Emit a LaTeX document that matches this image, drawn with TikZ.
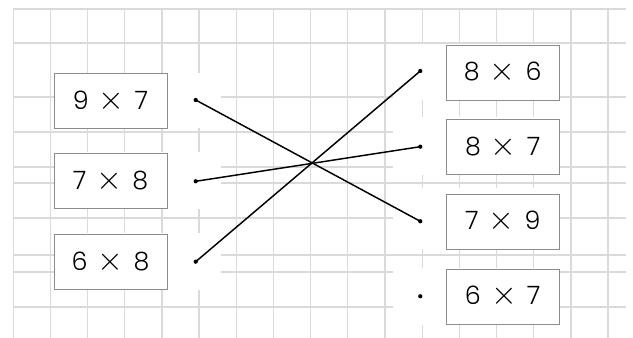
\documentclass[tikz,border=0pt]{standalone}
\usepackage{fontspec}
\setmainfont{Poppins Light}
\usetikzlibrary{calc}

\definecolor{gridgray}{RGB}{218,218,218}
\definecolor{boxgray}{RGB}{140,140,140}
\newcommand{\mult}[2]{#1\hspace{0.4em}{\fontsize{25}{25}\selectfont$\times$}\hspace{0.4em}#2}

\begin{document}
\begin{tikzpicture}[x=0.75pt, y=-0.75pt,
    card/.style={draw=boxgray, line width=0.7pt, fill=white, minimum width=84.75pt,
        minimum height=41.25pt, font=\fontsize{19}{22}\selectfont},
    pin/.style={circle, fill=black, inner sep=0pt, minimum size=3.2pt},
    link/.style={line width=1.1pt}]
    \useasboundingbox (0,0) rectangle (633,338);

    % grid paper
    \foreach \i in {0,...,16}
        \draw[gridgray, line width=1pt] ({13.3+37.17*\i}, 9) -- ({13.3+37.17*\i}, 338);
    \foreach \y in {9,43,97,132,167,183,218,255,272,307}
        \draw[gridgray, line width=1pt] (13.3, \y) -- (626, \y);

    % left column
    \begin{scope}[]
        \fill[white] (54, 73.5) rectangle (220.7, 128.5);
        \fill[white] (54, 152.5) rectangle (220.7, 209.5);
        \fill[white] (54, 233.5) rectangle (220.7, 290);

        \node [card] (L1) at (110.5, 101) {\mult{9}{7}};
        \node [card] (L2) at (110.5, 181) {\mult{7}{8}};
        \node [card] (L3) at (110.5, 262) {\mult{6}{8}};

        \node [pin] (DL1) at (195.7, 100) {};
        \node [pin] (DL2) at (195.7, 181.3) {};
        \node [pin] (DL3) at (195.7, 261.7) {};
    \end{scope}

    % right column
    \begin{scope}[]
        \fill[white] (393, 44) rectangle (560, 100);
        \fill[white] (393, 117) rectangle (560, 175);
        \fill[white] (393, 188) rectangle (560, 249);
        \fill[white] (393, 268) rectangle (560, 325);

        \node [card] (R1) at (502.7, 72.5) {\mult{8}{6}};
        \node [card] (R2) at (502.7, 147) {\mult{8}{7}};
        \node [card] (R3) at (502.7, 221.5) {\mult{7}{9}};
        \node [card] (R4) at (502.7, 296.5) {\mult{6}{7}};

        \node [pin] (DR1) at (420.3, 71) {};
        \node [pin] (DR2) at (420.3, 146.7) {};
        \node [pin] (DR3) at (420.3, 221.3) {};
        \node [pin] (DR4) at (420.3, 296.3) {};
    \end{scope}

    \draw[link] (DL1.center) -- (DR3.center);
    \draw[link] (DL2.center) -- (DR2.center);
    \draw[link] (DL3.center) -- (DR1.center);
\end{tikzpicture}
\end{document}
